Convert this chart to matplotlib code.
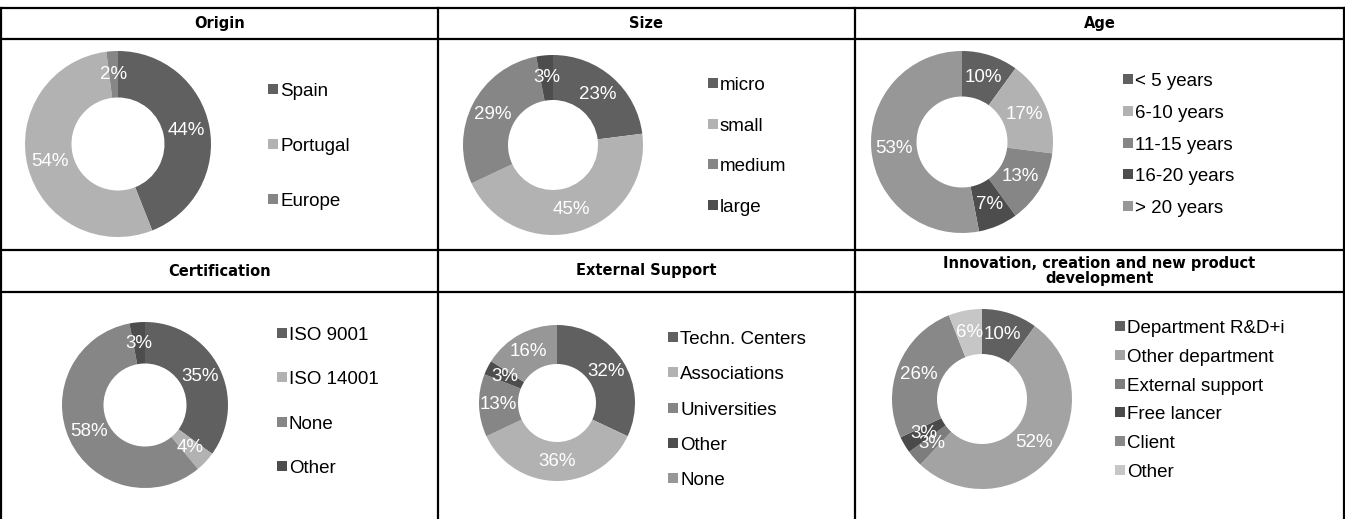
"""
Donut grid: profile of the surveyed companies
"""
import matplotlib
matplotlib.use("Agg")
import matplotlib.pyplot as plt
from matplotlib.lines import Line2D
from matplotlib.patches import Rectangle

W, H = 1345, 519

TITLES = ["Origin", "Size", "Age", "Certification", "External Support",
          "Innovation, creation and new product\ndevelopment"]

ORIGIN_LABELS = ["Spain", "Portugal", "Europe"]
ORIGIN_VALUES = [44, 54, 2]

SIZE_LABELS = ["micro", "small", "medium", "large"]
SIZE_VALUES = [23, 45, 29, 3]

AGE_LABELS = ["< 5 years", "6-10 years", "11-15 years", "16-20 years", "> 20 years"]
AGE_VALUES = [10, 17, 13, 7, 53]

CERT_LABELS = ["ISO 9001", "ISO 14001", "None", "Other"]
CERT_VALUES = [35, 4, 58, 3]

SUPPORT_LABELS = ["Techn. Centers", "Associations", "Universities", "Other", "None"]
SUPPORT_VALUES = [32, 36, 13, 3, 16]

INNOV_LABELS = ["Department R&D+i", "Other department", "External support",
                "Free lancer", "Client", "Other"]
INNOV_VALUES = [10, 52, 3, 3, 26, 6]

GREYS_A = ["#606060", "#b2b2b2", "#868686", "#4d4d4d", "#979797"]
GREYS_B = ["#606060", "#a3a3a3", "#7d7d7d", "#4a4a4a", "#888888", "#c6c6c6"]

# layout in pixels: (donut centre x, centre y, radius, legend x, legend y0, step)
PANELS = [
    (ORIGIN_LABELS, ORIGIN_VALUES, GREYS_A, (118, 144, 93, 268, 90, 55)),
    (SIZE_LABELS, SIZE_VALUES, GREYS_A, (553, 145, 90, 708, 84, 40.7)),
    (AGE_LABELS, AGE_VALUES, GREYS_A, (962, 142, 91, 1123, 80, 31.8)),
    (CERT_LABELS, CERT_VALUES, GREYS_A, (145, 405, 83, 277, 334, 44.3)),
    (SUPPORT_LABELS, SUPPORT_VALUES, GREYS_A, (557, 403, 78, 668, 338, 35.3)),
    (INNOV_LABELS, INNOV_VALUES, GREYS_B, (982, 399, 90, 1115, 327, 28.8)),
]

COL_X = [1, 438, 855, 1344]
ROW_Y = [8, 39, 250, 292, 519]

fig = plt.figure(figsize=(W / 100, H / 100), dpi=100, facecolor="white")


def px(x, y):
    return x / W, 1 - y / H


def hline(y, x0, x1):
    (a, b), (c, d) = px(x0, y), px(x1, y)
    fig.add_artist(Line2D([a, c], [b, d], color="black", lw=1.6,
                          transform=fig.transFigure))


def vline(x, y0, y1):
    (a, b), (c, d) = px(x, y0), px(x, y1)
    fig.add_artist(Line2D([a, c], [b, d], color="black", lw=1.6,
                          transform=fig.transFigure))


# table grid
for y in ROW_Y[:4]:
    hline(y, COL_X[0], COL_X[-1])
for x in COL_X:
    vline(x, ROW_Y[0], ROW_Y[-1])

# header titles
for i, title in enumerate(TITLES):
    col, row = i % 3, i // 3
    xc = (COL_X[col] + COL_X[col + 1]) / 2
    yc = (ROW_Y[2 * row] + ROW_Y[2 * row + 1]) / 2
    fx, fy = px(xc, yc)
    fig.text(fx, fy, title, ha="center", va="center", fontsize=10.5,
             fontweight="bold", family="DejaVu Sans", linespacing=0.95)

for labels, values, colors, (cx, cy, r, lx, ly, step) in PANELS:
    left, top = px(cx - r, cy - r)
    ax = fig.add_axes([left, top - 2 * r / H, 2 * r / W, 2 * r / H])
    ax.pie(values, colors=colors[:len(values)], startangle=90, counterclock=False,
           radius=1, wedgeprops=dict(width=0.5, linewidth=0),
           labels=[f"{v}%" for v in values], labeldistance=0.75,
           textprops=dict(color="white", fontsize=13.5, family="Liberation Sans",
                          ha="center", va="center"))
    ax.set_xlim(-1, 1)
    ax.set_ylim(-1, 1)
    ax.set_aspect("equal")
    ax.axis("off")

    # legend
    for k, lab in enumerate(labels):
        y = ly + k * step
        sx, sy = px(lx, y + 4)
        fig.add_artist(Rectangle((sx, sy), 10 / W, 10 / H, color=colors[k],
                                 transform=fig.transFigure, lw=0))
        tx, ty = px(lx + 12, y + 6)
        fig.text(tx, ty, lab, ha="left", va="baseline", fontsize=13.5,
                 family="Liberation Sans")

fig.savefig("out.png", dpi=100, facecolor="white")
